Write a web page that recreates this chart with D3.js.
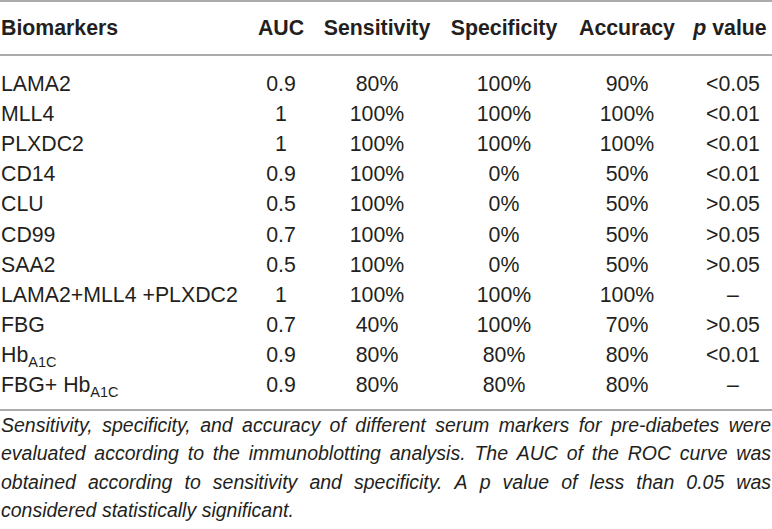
<!DOCTYPE html>
<html>
<head>
<meta charset="utf-8">
<script src="https://cdn.jsdelivr.net/npm/d3@7"></script>
<style>
  body { margin: 0; background: #fff; }
  svg { display: block; font-family: "Liberation Sans", Arial, Helvetica, sans-serif; }
</style>
</head>
<body>
<div class="table"></div>
<script>
// table contents
const headers = ["Biomarkers", "AUC", "Sensitivity", "Specificity", "Accuracy", "p value"];
const biomarkers = ["LAMA2", "MLL4", "PLXDC2", "CD14", "CLU", "CD99", "SAA2",
    "LAMA2+MLL4 +PLXDC2", "FBG", "Hb_{A1C}", "FBG+ Hb_{A1C}"];
const auc = ["0.9", "1", "1", "0.9", "0.5", "0.7", "0.5", "1", "0.7", "0.9", "0.9"];
const sensitivity = ["80%", "100%", "100%", "100%", "100%", "100%", "100%", "100%", "40%", "80%", "80%"];
const specificity = ["100%", "100%", "100%", "0%", "0%", "0%", "0%", "100%", "100%", "80%", "80%"];
const accuracy = ["90%", "100%", "100%", "50%", "50%", "50%", "50%", "100%", "70%", "80%", "80%"];
const pValues = ["<0.05", "<0.01", "<0.01", "<0.01", ">0.05", ">0.05", ">0.05", "–", ">0.05", "<0.01", "–"];
const footnote = [
    "Sensitivity, specificity, and accuracy of different serum markers for pre-diabetes were",
    "evaluated according to the immunoblotting analysis. The AUC of the ROC curve was",
    "obtained according to sensitivity and specificity. A p value of less than 0.05 was",
    "considered statistically significant."
];

const width = 772;
const height = 529;
const textColor = "#231f20";
const ruleColor = "#8f8f8f";

const svg = d3.select(".table")
        .append("svg")
        .attr("width", width)
        .attr("height", height);

// column positions (first column left aligned, the rest centred)
const colX = d3.scaleOrdinal()
        .domain(headers)
        .range([1, 281, 377, 504, 627, 733]);

const rowY = d3.scalePoint()
        .domain(d3.range(biomarkers.length))
        .range([91, 392]);

const columns = [biomarkers, auc, sensitivity, specificity, accuracy, pValues];

// rules
[1, 55, 410].forEach(y => {
    svg.append("line")
        .attr("x1", 0).attr("x2", width)
        .attr("y1", y).attr("y2", y)
        .attr("stroke", ruleColor)
        .attr("stroke-width", 1.5);
});

// header row
svg.selectAll("text.head")
        .data(headers).enter()
        .append("text")
        .attr("class", "head")
        .attr("x", (d, i) => i === 5 ? 730 : colX(d))
        .attr("y", 35)
        .attr("text-anchor", (_, i) => i === 0 ? "start" : "middle")
        .attr("font-size", 21.3)
        .attr("font-weight", "bold")
        .attr("fill", textColor)
        .each(function (d) {
            const t = d3.select(this);
            if (d === "p value") {
                t.append("tspan").attr("font-style", "italic").text("p");
                t.append("tspan").text(" value");
            } else {
                t.text(d);
            }
        });

// body cells, with _{..} turned into subscripts
function writeCell(sel, str) {
    const parts = str.split(/_\{(.+?)\}/);
    parts.forEach((p, k) => {
        if (!p) return;
        if (k % 2 === 1) {
            sel.append("tspan").attr("font-size", 14.5).attr("dy", 5).text(p);
        } else {
            sel.append("tspan").attr("dy", k > 0 ? -5 : 0).text(p);
        }
    });
}

columns.forEach((col, c) => {
    svg.append("g")
        .selectAll("text")
        .data(col).enter()
        .append("text")
        .attr("x", colX(headers[c]))
        .attr("y", (_, i) => rowY(i))
        .attr("text-anchor", c === 0 ? "start" : "middle")
        .attr("font-size", 21.3)
        .attr("fill", textColor)
        .each(function (d) { writeCell(d3.select(this), d); });
});

// footnote, justified word by word
const noteTop = 432;
const noteStep = 28.3;
const noteWidth = 770;
footnote.forEach((line, li) => {
    const words = line.split(" ");
    const g = svg.append("g");
    const texts = g.selectAll("text")
        .data(words).enter()
        .append("text")
        .attr("y", noteTop + li * noteStep)
        .attr("font-size", 19.5)
        .attr("font-style", "italic")
        .attr("fill", textColor)
        .text(d => d);
    const widths = texts.nodes().map(n => n.getComputedTextLength());
    const total = d3.sum(widths);
    const last = li === footnote.length - 1;
    const gap = last ? 5.5 : (noteWidth - total) / (words.length - 1);
    let x = 1;
    texts.attr("x", (_, i) => {
        const pos = x;
        x += widths[i] + gap;
        return pos;
    });
});
</script>
</body>
</html>
